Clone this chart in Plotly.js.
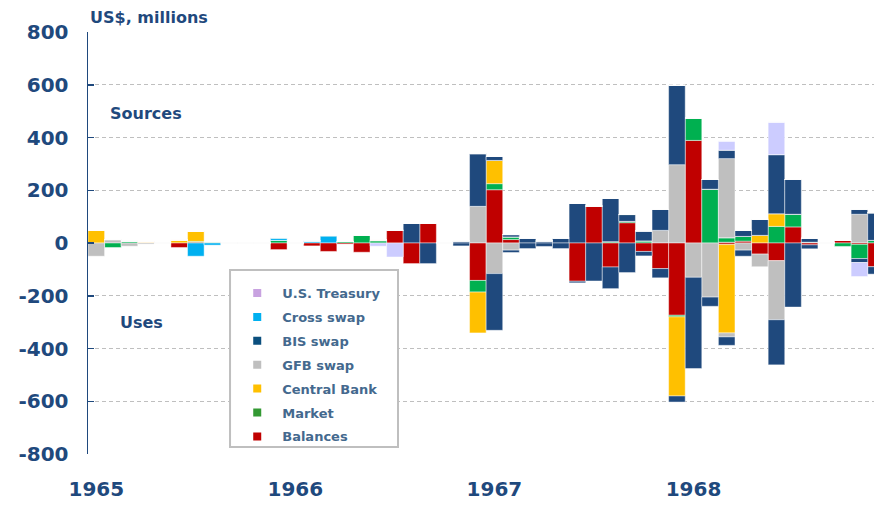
<!DOCTYPE html>
<html>
<head>
<meta charset="utf-8">
<script src="https://cdn.plot.ly/plotly-3.0.1.min.js"></script>
<style>html,body{margin:0;padding:0;background:#fff;}#chart{width:874px;height:506px;}</style>
</head>
<body>
<div id="chart"></div>
<script>
// ---- categories ----
const years = ['1965', '1966', '1967', '1968'];
const monthNums = ['01','02','03','04','05','06','07','08','09','10','11','12'];
const months = [];
years.forEach(y => monthNums.forEach(m => months.push(y + '-' + m)));
const yTickVals = [-800, -600, -400, -200, 0, 200, 400, 600, 800];
const yTickText = ['-800', '-600', '-400', '-200', '0', '200', '400', '600', '800'];

// ---- series (US$ millions), 48 months Jan 1965 - Dec 1968 ----
// Sources (positive)
const balancesSrc = [0,0,0,0,0,0,3,0,0,0,0,0, 0,0,0,0,0,0,48,0,74,0,0,0, 202,13,0,0,0,0,140,0,77,0,0,0, 389,0,3,7,0,0,61,0,0,10,0,0];
const marketSrc   = [0,0,8,0,0,0,3,5,0,0,0,10, 0,0,0,6,30,8,0,0,0,0,0,0, 23,10,0,0,0,0,0,5,5,8,0,0, 85,204,17,18,0,63,48,3,0,0,0,10];
const centralSrc  = [48,0,0,5,0,12,38,0,0,0,0,0, 0,0,0,0,0,4,0,0,0,0,0,0, 88,0,0,0,0,0,0,0,0,0,0,0, 0,0,0,0,29,48,0,0,0,0,0,0];
const gfbSrc      = [0,13,0,0,0,0,0,0,0,0,0,0, 0,0,0,0,0,0,0,0,0,0,0,139, 0,0,0,0,0,0,0,0,0,0,48,297, 0,0,300,0,0,0,0,0,0,0,109,0];
const bisSrc      = [0,0,0,0,0,0,0,0,0,0,0,0, 0,0,0,0,0,0,0,74,0,0,8,200, 15,9,19,8,19,150,0,164,26,38,80,301, 0,37,32,23,61,224,132,15,0,0,19,105];
const crossSrc    = [0,0,0,0,0,0,0,0,0,0,0,10, 0,8,28,0,0,0,0,0,0,0,0,0, 0,0,0,0,0,0,0,0,0,0,0,0, 0,0,0,0,0,0,0,0,0,0,0,0];
const treasurySrc = [0,0,0,0,0,0,0,0,0,0,0,0, 0,0,0,0,0,0,0,0,0,0,0,0, 0,0,0,0,0,0,0,0,0,0,0,0, 0,0,35,0,0,124,0,0,0,0,0,0];
// Uses (negative)
const balancesUse = [0,0,0,0,0,-17,0,0,0,0,0,-25, 0,-11,-32,-4,-35,0,0,-78,0,0,0,-142, 0,0,0,0,0,-145,0,-91,0,-32,-97,-274, 0,0,-6,0,-42,-67,0,-7,0,0,-5,-90];
const marketUse   = [0,-17,0,0,0,0,0,0,0,0,0,0, 0,0,0,0,0,0,0,0,0,0,0,-44, 0,0,0,0,0,0,0,0,0,0,0,-6, 0,0,0,0,0,0,0,0,0,-13,-54,0];
const centralUse  = [0,0,0,0,0,0,0,0,0,0,0,0, 0,0,0,0,0,0,0,0,0,0,0,-155, 0,0,0,0,0,0,0,0,0,0,0,-300, 0,0,-335,0,0,0,0,0,0,0,0,0];
const gfbUse      = [-50,0,-12,-4,0,0,0,0,0,0,0,0, 0,0,0,0,0,0,0,0,0,0,0,0, -116,-27,0,0,0,0,0,0,0,0,0,0, -130,-205,-15,-27,-48,-224,0,0,0,0,0,0];
const bisUse      = [0,0,0,0,0,0,0,0,0,0,0,0, 0,0,0,0,0,0,0,0,-78,0,-11,0, -215,-9,-21,-13,-21,-6,-144,-82,-112,-17,-35,-23, -346,-35,-32,-23,0,-171,-243,-15,0,0,-15,-28];
const crossUse    = [0,0,0,0,0,0,-50,-8,0,0,0,0, 0,0,0,0,0,0,0,0,0,0,0,0, 0,0,0,0,0,0,0,0,0,0,0,0, 0,0,0,0,0,0,0,0,0,0,0,0];
const treasuryUse = [0,0,0,0,0,0,0,0,0,0,0,0, 0,0,0,0,0,-12,-53,0,0,0,0,0, 0,0,0,0,0,0,0,0,0,0,0,0, 0,0,0,0,0,0,0,0,0,0,-53,0];

const seriesNames = ['Balances', 'Market', 'Central Bank', 'GFB swap', 'BIS swap', 'Cross swap', 'U.S. Treasury'];
const barColors   = ['#C00000', '#00B050', '#FFC000', '#BFBFBF', '#1F497D', '#00B0F0', '#CCCCFF'];
const legendColors= ['#C00000', '#339933', '#FFC000', '#BFBFBF', '#0B4F7E', '#00B0F0', '#C8A2E0'];
const srcData = [balancesSrc, marketSrc, centralSrc, gfbSrc, bisSrc, crossSrc, treasurySrc];
const useData = [balancesUse, marketUse, centralUse, gfbUse, bisUse, crossUse, treasuryUse];

const textBlue = '#1F497D';
const legendText = '#44698E';
const traces = [];
const edge = {color: 'rgba(255,255,255,0.45)', width: 1};
seriesNames.forEach((n, k) => {
  traces.push({type: 'bar', name: n, x: months, y: srcData[k], marker: {color: barColors[k], line: edge}, showlegend: false, hoverinfo: 'x+y+name'});
});
seriesNames.forEach((n, k) => {
  traces.push({type: 'bar', name: n, x: months, y: useData[k], marker: {color: barColors[k], line: edge}, showlegend: false, hoverinfo: 'x+y+name'});
});
// legend-only entries (top: U.S. Treasury ... bottom: Balances)
for (let k = seriesNames.length - 1; k >= 0; k--) {
  traces.push({type: 'scatter', mode: 'markers', name: seriesNames[k], x: [null], y: [null],
    legendgroup: 'g' + k, marker: {symbol: 'square', size: 8, color: legendColors[k]}, showlegend: true});
}

const layout = {
  width: 874, height: 506,
  margin: {l: 88, r: 0, t: 32, b: 52},
  paper_bgcolor: '#ffffff', plot_bgcolor: '#ffffff',
  barmode: 'relative', bargap: 0,
  font: {family: 'DejaVu Sans', color: textBlue},
  showlegend: true,
  legend: {
    x: 0.1835, y: 0.417, xanchor: 'left', yanchor: 'top',
    bgcolor: 'rgba(0,0,0,0)', borderwidth: 0,
    font: {family: 'DejaVu Sans', size: 13, color: legendText, weight: 'bold'},
    traceorder: 'grouped', tracegroupgap: 4, itemwidth: 40
  },
  shapes: [
    {type: 'rect', xref: 'paper', yref: 'paper', x0: 0.1807, x1: 0.3944, y0: 0.0166, y1: 0.436,
     fillcolor: '#ffffff', line: {color: '#BFBFBF', width: 2}, layer: 'above'}
  ],
  xaxis: {
    type: 'category', categoryorder: 'array', categoryarray: months,
    range: [-0.5, 46.88],
    tickmode: 'array', tickvals: years.map(y => y + '-01'), ticktext: years,
    showgrid: false, showline: false, zeroline: false, ticks: '',
    tickfont: {family: 'DejaVu Sans', size: 20, color: textBlue, weight: 'bold'},
    ticklabelstandoff: 21
  },
  yaxis: {
    range: [-800, 800], tickmode: 'array', tickvals: yTickVals, ticktext: yTickText,
    showgrid: true, gridcolor: '#BFBFBF', gridwidth: 1, griddash: '4px,3px',
    zeroline: true, zerolinecolor: '#7F96B2', zerolinewidth: 1.5,
    showline: true, linecolor: textBlue, linewidth: 1.5,
    ticks: 'inside', ticklen: 6, tickcolor: textBlue, tickwidth: 1.5,
    tickfont: {family: 'DejaVu Sans', size: 20, color: textBlue, weight: 'bold'},
    ticklabelstandoff: 14
  },
  annotations: [
    {xref: 'paper', yref: 'paper', x: 0, y: 1.035, xanchor: 'left', yanchor: 'middle', showarrow: false,
     text: 'US$, millions', font: {family: 'DejaVu Sans', size: 16, color: textBlue, weight: 'bold'}},
    {xref: 'x', yref: 'y', x: 3.0, y: 492, xanchor: 'center', yanchor: 'middle', showarrow: false,
     text: 'Sources', font: {family: 'DejaVu Sans', size: 16, color: textBlue, weight: 'bold'}},
    {xref: 'x', yref: 'y', x: 2.7, y: -300, xanchor: 'center', yanchor: 'middle', showarrow: false,
     text: 'Uses', font: {family: 'DejaVu Sans', size: 16, color: textBlue, weight: 'bold'}}
  ]
};

Plotly.newPlot('chart', traces, layout, {displayModeBar: false, staticPlot: true});
</script>
</body>
</html>
